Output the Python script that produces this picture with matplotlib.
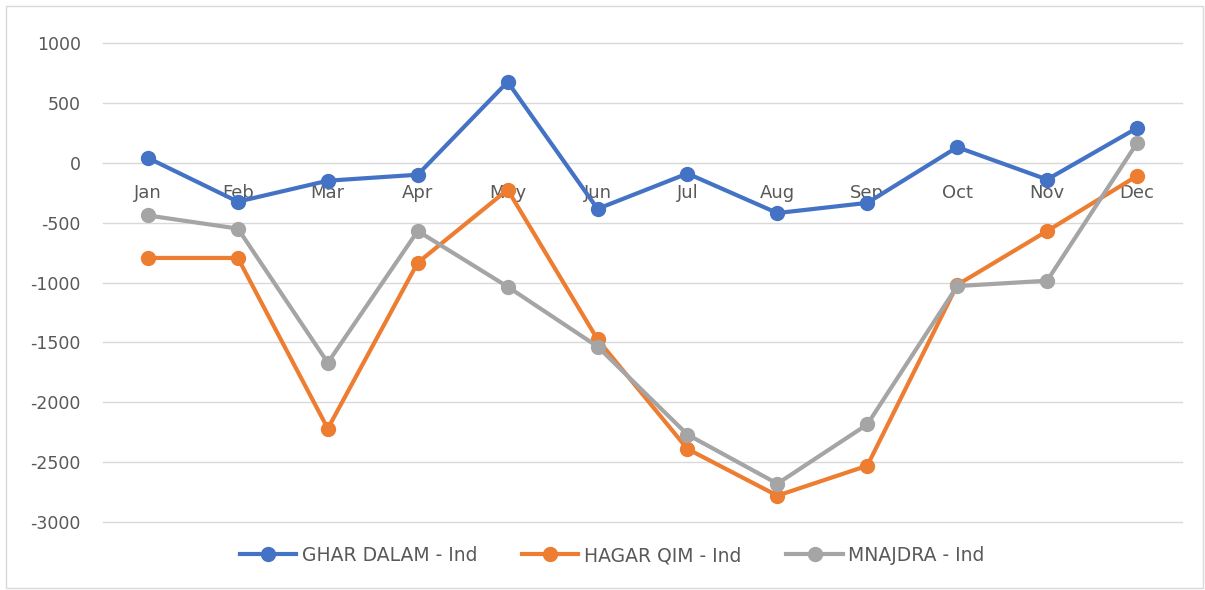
import matplotlib.pyplot as plt
from matplotlib.patches import Rectangle

plt.rcParams["axes.unicode_minus"] = False

months = ["Jan", "Feb", "Mar", "Apr", "May", "Jun", "Jul", "Aug", "Sep", "Oct", "Nov", "Dec"]
ghar_dalam = [40, -325, -150, -100, 675, -385, -90, -420, -335, 130, -140, 290]
hagar_qim = [-795, -795, -2220, -835, -225, -1475, -2390, -2780, -2530, -1020, -570, -110]
mnajdra = [-440, -550, -1670, -570, -1035, -1535, -2270, -2680, -2185, -1030, -985, 165]

series = [
    ("GHAR DALAM - Ind", ghar_dalam, "#4472C4"),
    ("HAGAR QIM - Ind", hagar_qim, "#ED7D31"),
    ("MNAJDRA - Ind", mnajdra, "#A5A5A5"),
]

fig = plt.figure(figsize=(12.05, 5.9), dpi=100)
ax = fig.add_axes([103 / 1205, 68 / 590, 1079 / 1205, 479 / 590])

x = list(range(len(months)))
for name, vals, col in series:
    ax.plot(x, vals, color=col, lw=3, marker="o", ms=10, label=name, zorder=3)

ax.set_xlim(-0.5, 11.5)
ax.set_ylim(-3000, 1000)
ax.set_yticks(range(-3000, 1001, 500))
ax.grid(axis="y", color="#D9D9D9", lw=1)
for gl in ax.get_ygridlines():
    gl.set_clip_on(False)
ax.set_axisbelow(True)
for s in ["top", "right", "left"]:
    ax.spines[s].set_visible(False)
ax.spines["bottom"].set_position(("data", 0))
ax.spines["bottom"].set_color("#D9D9D9")
ax.set_xticks(x)
ax.set_xticklabels(months)
ax.tick_params(axis="x", length=0, pad=15, labelsize=13, labelcolor="#595959")
ax.tick_params(axis="y", length=0, pad=16, labelsize=12.5, labelcolor="#595959")

ax.legend(loc="upper center", bbox_to_anchor=(0.472, -0.015), ncol=3, frameon=False,
          fontsize=13.5, labelcolor="#595959", handlelength=3.0, handletextpad=0.3,
          columnspacing=2.4)

fig.patches.append(Rectangle((6 / 1205, 2 / 590), 1197 / 1205, 582 / 590, transform=fig.transFigure,
                             fill=False, edgecolor="#D9D9D9", lw=1))

fig.savefig("out.png", dpi=100)
